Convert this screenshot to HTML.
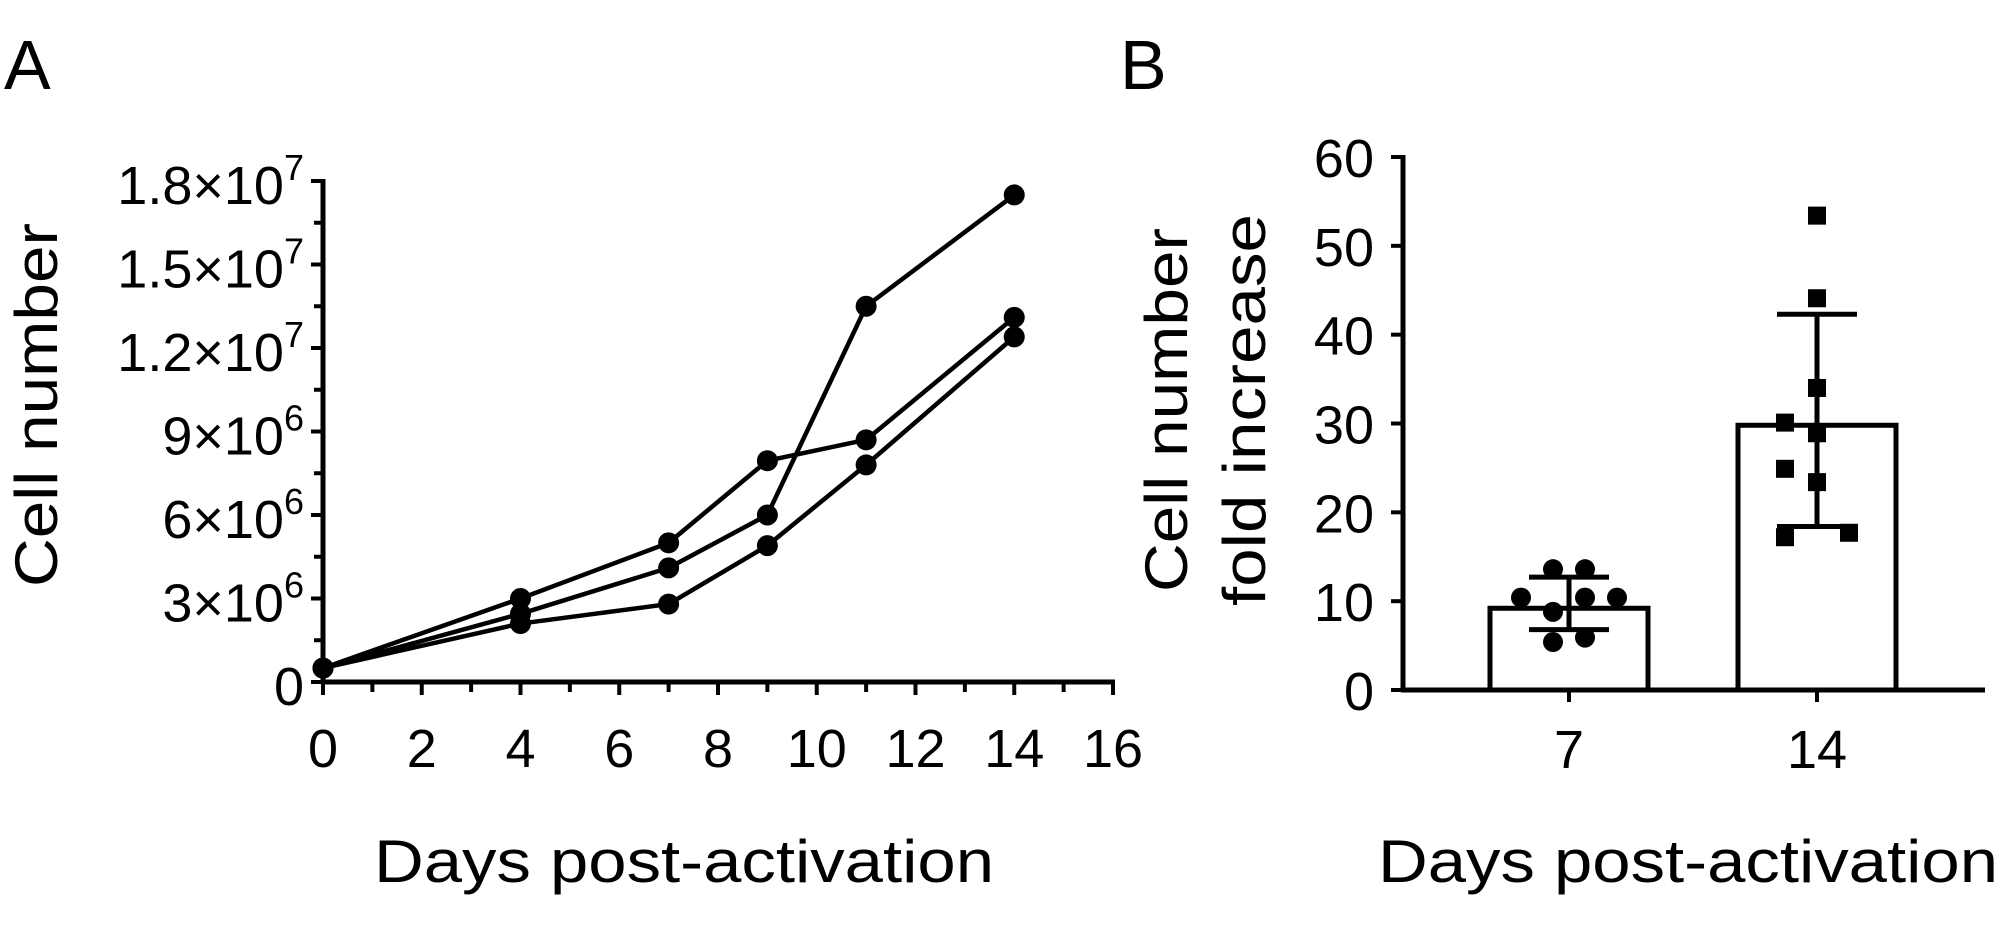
<!DOCTYPE html>
<html><head><meta charset="utf-8"><style>
html,body{margin:0;padding:0;background:#fff;}
svg{display:block;font-family:"Liberation Sans",sans-serif;}
</style></head><body>
<svg id="fig" width="2000" height="926" viewBox="0 0 2000 926">
<text x="4" y="89" font-size="70">A</text>
<text x="1120" y="89" font-size="70">B</text>
<g id="pa"></g>
<g id="pb"></g>
</svg>
<script>
// ---- Panel A data ----
const daysA = [0, 4, 7, 9, 11, 14];
const series1 = [0.5e6, 3.0e6, 5.0e6, 7.95e6, 8.7e6, 13.1e6];
const series2 = [0.5e6, 2.45e6, 4.1e6, 6.0e6, 13.5e6, 17.5e6];
const series3 = [0.5e6, 2.1e6, 2.8e6, 4.9e6, 7.8e6, 12.4e6];
const yTicksA = [0, 3e6, 6e6, 9e6, 1.2e7, 1.5e7, 1.8e7];
const yTickMantA = ["0", "3", "6", "9", "1.2", "1.5", "1.8"];
const yTickExpA = ["", "6", "6", "6", "7", "7", "7"];
const xTicksA = [0, 2, 4, 6, 8, 10, 12, 14, 16];
// ---- Panel B data ----
const catsB = ["7", "14"];
const meansB = [9.2, 29.8];
const errHiB = [12.7, 42.3];
const errLoB = [6.8, 18.4];
const pts7 = [13.6, 13.6, 10.4, 10.4, 10.4, 8.8, 5.4, 5.9];
const jit7 = [-0.5, 0.5, -1.5, 0.5, 1.5, -0.5, -0.5, 0.5];
const pts14 = [53.4, 44.1, 34.0, 30.1, 28.9, 24.9, 23.4, 17.2, 17.7];
const jit14 = [0, 0, 0, -1, 0, -1, 0, -1, 1];
const yTicksB = [0, 10, 20, 30, 40, 50, 60];

const NS = "http://www.w3.org/2000/svg";
function mk(parent, tag, attrs, text) {
  const e = document.createElementNS(NS, tag);
  for (const k in attrs) e.setAttribute(k, attrs[k]);
  if (text !== undefined) e.textContent = text;
  parent.appendChild(e);
  return e;
}
// ===== Panel A =====
const pa = document.getElementById('pa');
const ax0 = 323, ax1 = 1113, ay0 = 682, ay1 = 181;
const xA = d => ax0 + (d - 0) / 16 * (ax1 - ax0);
const yA = v => ay0 - v / 1.8e7 * (ay0 - ay1);
let el;
el = mk(pa, 'line', {x1: ax0, y1: ay1 - 2, x2: ax0, y2: ay0 + 2, stroke: '#000', 'stroke-width': 5});


el = mk(pa, 'line', {x1: ax0 - 2, y1: ay0, x2: ax1 + 2, y2: ay0, stroke: '#000', 'stroke-width': 5});


for (let i = 0; i <= 12; i++) {
  const v = i * 1.5e6, y = yA(v), major = i % 2 === 0;
  el = mk(pa, 'line', {x1: ax0 - (major ? 12 : 9), y1: y, x2: ax0, y2: y, stroke: '#000', 'stroke-width': 4});
  
  
}
yTicksA.forEach((v, i) => {
  const t = mk(pa, 'text', {x: 304, y: yA(v) + 23, 'font-size': 54, 'text-anchor': 'end'});
  
  
  if (yTickExpA[i]) {
    mk(t, 'tspan', {}, yTickMantA[i] + "×10");
    mk(t, 'tspan', {'font-size': 36, dy: -24}, yTickExpA[i]);
  } else {
    t.textContent = yTickMantA[i];
  }
});
for (let d = 0; d <= 16; d++) {
  el = mk(pa, 'line', {x1: xA(d), y1: ay0, x2: xA(d), y2: ay0 + (d % 2 === 0 ? 13 : 10), stroke: '#000', 'stroke-width': 4});
  
  
}
xTicksA.forEach(d => {
  el = mk(pa, 'text', {x: xA(d), y: 767, 'font-size': 54, 'text-anchor': 'middle'}, String(d));
  
  
});
el = mk(pa, 'text', {x: 684, y: 882, 'font-size': 60, 'text-anchor': 'middle', textLength: 620, lengthAdjust: 'spacingAndGlyphs'}, 'Days post-activation');


el = mk(pa, 'text', {x: 0, y: 0, transform: 'translate(57,405) rotate(-90)', 'font-size': 60, 'text-anchor': 'middle', textLength: 364, lengthAdjust: 'spacingAndGlyphs'}, 'Cell number');


[series1, series2, series3].forEach((s, si) => {
  const g = mk(pa, 'g', {});
  
  
  const pts = s.map((v, i) => xA(daysA[i]) + ',' + yA(v)).join(' ');
  el = mk(g, 'polyline', {points: pts, fill: 'none', stroke: '#000', 'stroke-width': 4.5, 'stroke-linejoin': 'round'});
  
  
  s.forEach((v, i) => {
    el = mk(g, 'circle', {cx: xA(daysA[i]), cy: yA(v), r: 10.5, fill: '#000'});
    
    
  });
});
// ===== Panel B =====
const pb = document.getElementById('pb');
const bx0 = 1403, bx1 = 1985, by0 = 690, by1 = 157;
const yB = v => by0 - v / 60 * (by0 - by1);
const catX = [1569, 1817];
const barW = 158, jitStep = 32;
el = mk(pb, 'line', {x1: bx0, y1: by1 - 2, x2: bx0, y2: by0 + 2, stroke: '#000', 'stroke-width': 5});


el = mk(pb, 'line', {x1: bx0 - 2, y1: by0, x2: bx1, y2: by0, stroke: '#000', 'stroke-width': 5});


yTicksB.forEach(v => {
  el = mk(pb, 'line', {x1: bx0 - 12, y1: yB(v), x2: bx0, y2: yB(v), stroke: '#000', 'stroke-width': 4});
  
  
  el = mk(pb, 'text', {x: 1374, y: yB(v) + 20, 'font-size': 54, 'text-anchor': 'end'}, String(v));
  
  
});
el = mk(pb, 'text', {x: 0, y: 0, transform: 'translate(1187,410) rotate(-90)', 'font-size': 60, 'text-anchor': 'middle', textLength: 364, lengthAdjust: 'spacingAndGlyphs'}, 'Cell number');


el = mk(pb, 'text', {x: 0, y: 0, transform: 'translate(1265,410) rotate(-90)', 'font-size': 60, 'text-anchor': 'middle', textLength: 392, lengthAdjust: 'spacingAndGlyphs'}, 'fold increase');


el = mk(pb, 'text', {x: 1378, y: 882, 'font-size': 60, textLength: 620, lengthAdjust: 'spacingAndGlyphs'}, 'Days post-activation');


catsB.forEach((c, i) => {
  const cx = catX[i];
  el = mk(pb, 'rect', {x: cx - barW / 2, y: yB(meansB[i]), width: barW, height: by0 - yB(meansB[i]), fill: '#fff', stroke: '#000', 'stroke-width': 5});
  
  
  el = mk(pb, 'line', {x1: cx, y1: by0, x2: cx, y2: by0 + 12, stroke: '#000', 'stroke-width': 4});
  
  
  el = mk(pb, 'text', {x: cx, y: 768, 'font-size': 54, 'text-anchor': 'middle'}, c);
  
  
});
// points
pts7.forEach((v, i) => {
  el = mk(pb, 'circle', {cx: catX[0] + jit7[i] * jitStep, cy: yB(v), r: 10, fill: '#000'});
  
  
});
pts14.forEach((v, i) => {
  el = mk(pb, 'rect', {x: catX[1] + jit14[i] * jitStep - 9, y: yB(v) - 9, width: 18, height: 18, fill: '#000'});
  
  
});
// error bars
catsB.forEach((c, i) => {
  const cx = catX[i];
  const g = mk(pb, 'g', {stroke: '#000', 'stroke-width': 5});
  
  
  mk(g, 'line', {x1: cx, y1: yB(errHiB[i]), x2: cx, y2: yB(errLoB[i])});
  mk(g, 'line', {x1: cx - 40, y1: yB(errHiB[i]), x2: cx + 40, y2: yB(errHiB[i])});
  mk(g, 'line', {x1: cx - 40, y1: yB(errLoB[i]), x2: cx + 40, y2: yB(errLoB[i])});
});
</script>
</body></html>
